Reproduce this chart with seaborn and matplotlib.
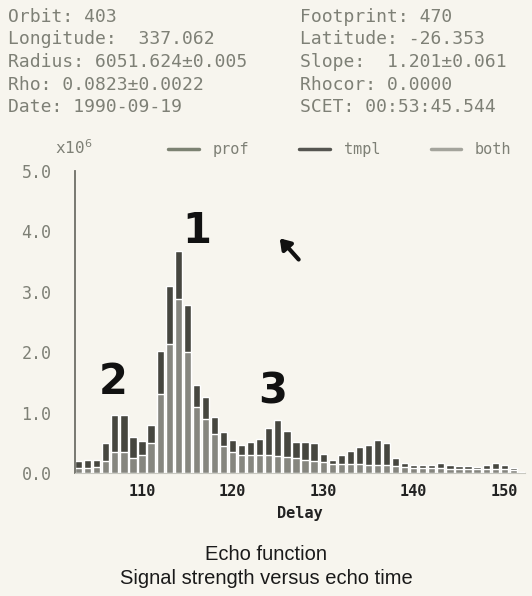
import numpy as np
import matplotlib.pyplot as plt
import pandas as pd
import seaborn as sns
from matplotlib.lines import Line2D

# echo function, signal strength (x10^6) per delay bin
delay = list(range(103, 153))
prof = [0.20, 0.22, 0.22, 0.50, 0.96, 0.96, 0.60, 0.53, 0.80, 2.02,
        3.10, 3.67, 2.78, 1.45, 1.25, 0.92, 0.68, 0.55, 0.46, 0.52,
        0.56, 0.75, 0.88, 0.70, 0.52, 0.52, 0.49, 0.31, 0.21, 0.29,
        0.36, 0.43, 0.46, 0.54, 0.50, 0.24, 0.17, 0.14, 0.13, 0.14,
        0.16, 0.13, 0.12, 0.12, 0.10, 0.13, 0.16, 0.13, 0.08, 0.02]
tmpl = [0.08, 0.08, 0.10, 0.20, 0.35, 0.35, 0.25, 0.30, 0.50, 1.30,
        2.13, 2.88, 2.00, 1.10, 0.90, 0.65, 0.45, 0.35, 0.30, 0.30,
        0.30, 0.30, 0.28, 0.26, 0.24, 0.22, 0.20, 0.18, 0.15, 0.15,
        0.15, 0.15, 0.14, 0.14, 0.13, 0.12, 0.10, 0.09, 0.08, 0.08,
        0.08, 0.07, 0.07, 0.07, 0.06, 0.06, 0.06, 0.06, 0.05, 0.01]

left_info = ["Orbit: 403", "Longitude:  337.062", "Radius: 6051.624±0.005",
             "Rho: 0.0823±0.0022", "Date: 1990-09-19"]
right_info = ["Footprint: 470", "Latitude: -26.353", "Slope:  1.201±0.061",
              "Rhocor: 0.0000", "SCET: 00:53:45.544"]
yticks = [0.0, 1.0, 2.0, 3.0, 4.0, 5.0]
xticks = [110, 120, 130, 140, 150]

df = pd.DataFrame({"Delay": delay, "prof": prof, "tmpl": tmpl})

sns.set_style("white")
mono = "DejaVu Sans Mono"
bg = "#f7f5ee"
dark = "#46463f"
light = "#86867f"
txt = "#7e8076"

fig = plt.figure(figsize=(5.32, 5.96), dpi=100, facecolor=bg)
ax = fig.add_axes([0.141, 0.2064, 0.846, 0.5067])
ax.set_facecolor(bg)

sns.barplot(data=df, x="Delay", y="prof", native_scale=True, color=dark,
            width=0.8, saturation=1, ax=ax)
sns.barplot(data=df, x="Delay", y="tmpl", native_scale=True, color=light,
            width=0.8, saturation=1, ax=ax)

ax.set_xlim(102.6, 152.3)
ax.set_ylim(0, 5.0)
ax.set_yticks(yticks)
ax.set_yticklabels([f"{v:.1f}" for v in yticks], family=mono, fontsize=12, color=txt)
ax.set_xticks(xticks)
ax.set_xticklabels([str(v) for v in xticks], family=mono, fontsize=11,
                   fontweight="bold", color="#222222")
ax.set_xlabel("Delay", family=mono, fontsize=11, fontweight="bold", color="#222222",
              labelpad=5)
ax.set_ylabel("")
for s in ["top", "right"]:
    ax.spines[s].set_visible(False)
ax.spines["left"].set_color("#6e6e66")
ax.spines["left"].set_linewidth(1.3)
ax.spines["bottom"].set_color("#c8c8c0")
ax.tick_params(axis="y", length=3, color="#6e6e66", pad=14)
ax.tick_params(axis="x", length=3, color="#c8c8c0", pad=5)

# hand-written markings on the scan
ax.text(116.0, 4.0, "1", fontsize=30, fontweight="heavy", ha="center", va="center", color="#111111")
ax.text(106.8, 1.5, "2", fontsize=30, fontweight="heavy", ha="center", va="center", color="#111111")
ax.text(124.4, 1.35, "3", fontsize=30, fontweight="heavy", ha="center", va="center", color="#111111")
ax.annotate("", xy=(125.0, 3.92), xytext=(127.5, 3.5),
            arrowprops=dict(arrowstyle="-|>,head_width=0.4,head_length=0.6",
                            color="#111111", lw=3))

# legend row
handles = [Line2D([], [], color="#7c8272", lw=2.5),
           Line2D([], [], color="#555550", lw=2.5),
           Line2D([], [], color="#a4a49c", lw=2.5)]
leg = ax.legend(handles, ["prof", "tmpl", "both"], ncol=3, frameon=False,
                loc="lower right", bbox_to_anchor=(1.0, 1.0),
                prop={"family": mono, "size": 11}, handlelength=2.0,
                columnspacing=3.3, handletextpad=0.9)
for t in leg.get_texts():
    t.set_color(txt)
fig.text(55 / 532, 1 - 148 / 596, "x10$^6$", family=mono, fontsize=11.5,
         color=txt, va="center")

# header block
for i, (a, b) in enumerate(zip(left_info, right_info)):
    y = 1 - (17 + i * 22.5) / 596
    fig.text(8 / 532, y, a, family=mono, fontsize=13, color=txt, va="center")
    fig.text(300 / 532, y, b, family=mono, fontsize=13, color=txt, va="center")

# caption
fig.text(0.5, 1 - 555 / 596, "Echo function", ha="center", va="center",
         family="Liberation Sans", fontsize=14.5, color="#1a1a1a")
fig.text(0.5, 1 - 578 / 596, "Signal strength versus echo time", ha="center",
         va="center", family="Liberation Sans", fontsize=14.5, color="#1a1a1a")

fig.savefig("out.png", dpi=100, facecolor=bg)
